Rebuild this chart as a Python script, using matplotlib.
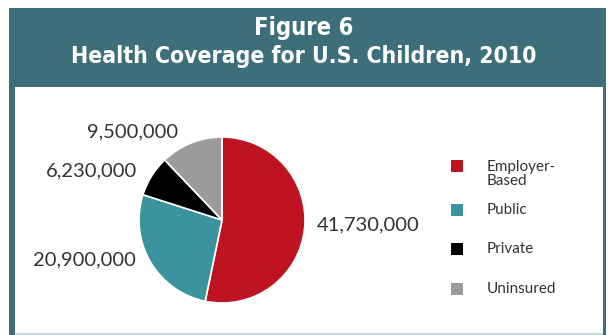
import matplotlib
matplotlib.use("Agg")
import matplotlib.pyplot as plt
from matplotlib.patches import Rectangle

categories = ["Employer-\nBased", "Public", "Private", "Uninsured"]
values = [41730000, 20900000, 6230000, 9500000]
value_labels = ["41,730,000", "20,900,000", "6,230,000", "9,500,000"]
colors = ["#BE1421", "#3B939E", "#000000", "#9B9B9D"]
title_lines = ["Figure 6", "Health Coverage for U.S. Children, 2010"]

W, H = 608, 335
fig = plt.figure(figsize=(W / 100, H / 100), dpi=100)
fig.patch.set_facecolor("white")

def rect(x0, y0, x1, y1, color, z):
    fig.patches.append(Rectangle((x0 / W, 1 - y1 / H), (x1 - x0) / W, (y1 - y0) / H,
                                 transform=fig.transFigure, facecolor=color,
                                 edgecolor="none", zorder=z))

def px(x, y):
    return (x / W, 1 - y / H)

teal = "#3D6F7A"
rect(9, 8, 606, 335, teal, 0)
rect(15, 87, 603, 335, "white", 1)
rect(15, 333, 603, 335, "#C3DADC", 1)

fig.text(*px(304, 28), title_lines[0], ha="center", va="center", color="white",
         fontsize=17, fontweight="bold", family="DejaVu Sans", fontstretch="condensed")
fig.text(*px(304, 57), title_lines[1], ha="center", va="center", color="white",
         fontsize=16.5, fontweight="bold", family="DejaVu Sans", fontstretch="condensed")

# pie axes
cx, cy, r = 222, 220, 83
ax = fig.add_axes([(cx - r) / W, 1 - (cy + r) / H, 2 * r / W, 2 * r / H])
ax.set_zorder(2)
wedges, _ = ax.pie(values, colors=colors, startangle=90, counterclock=False,
                   wedgeprops=dict(edgecolor="white", linewidth=1.2))
ax.set_aspect("equal")
ax.set_xlim(-1, 1)
ax.set_ylim(-1, 1)

lab_kw = dict(fontsize=14.5, color="#333333", family="Lato", va="center")
fig.text(*px(317, 225), value_labels[0], ha="left", **lab_kw)
fig.text(*px(136, 260), value_labels[1], ha="right", **lab_kw)
fig.text(*px(137, 171), value_labels[2], ha="right", **lab_kw)
fig.text(*px(178, 132), value_labels[3], ha="right", **lab_kw)

# legend
leg_y = [166, 210, 249, 289]
for cat, col, y in zip(categories, colors, leg_y):
    rect(451, y - 6, 463, y + 6, col, 3)
    ty = y + 8 if "\n" in cat else y
    fig.text(*px(487, ty), cat, ha="left", va="center", fontsize=11, color="#333333",
             family="Lato", linespacing=1.05)

fig.savefig("out.png", dpi=100)
